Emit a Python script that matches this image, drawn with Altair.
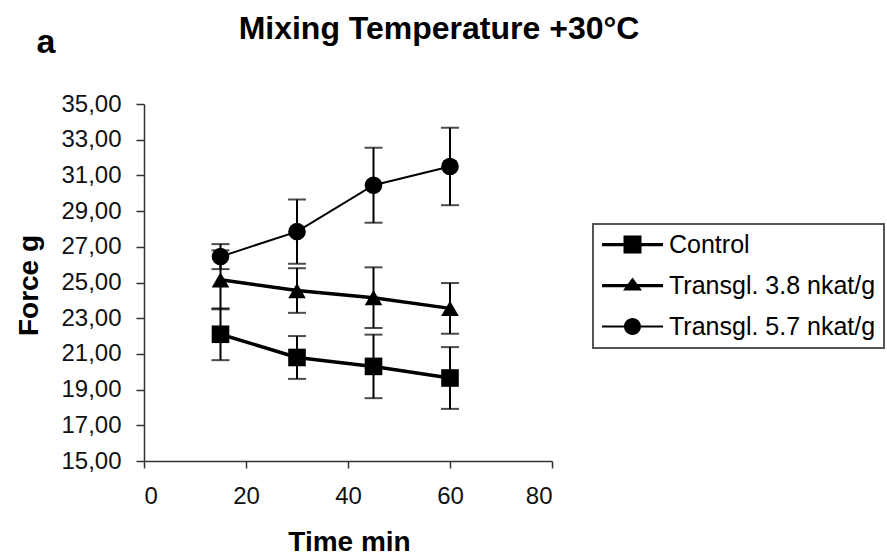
import altair as alt
import pandas as pd

title_text = "Mixing Temperature +30°C"
panel_label = "a"
x_title = "Time min"
y_title = "Force g"

series = ["Control", "Transgl. 3.8 nkat/g", "Transgl. 5.7 nkat/g"]
times = [15, 30, 45, 60]
control_mean = [22.10, 20.80, 20.30, 19.65]
control_err = [1.45, 1.20, 1.78, 1.73]
t38_mean = [25.15, 24.55, 24.15, 23.55]
t38_err = [1.65, 1.25, 1.70, 1.42]
t57_mean = [26.45, 27.85, 30.45, 31.50]
t57_err = [0.70, 1.80, 2.10, 2.17]

x_ticks = [0, 20, 40, 60, 80]
y_ticks = [15, 17, 19, 21, 23, 25, 27, 29, 31, 33, 35]

rows = []
for name, means, errs in zip(series, [control_mean, t38_mean, t57_mean],
                             [control_err, t38_err, t57_err]):
    for t, m, e in zip(times, means, errs):
        rows.append({"series": name, "time": t, "force": m, "lo": m - e, "hi": m + e})
df = pd.DataFrame(rows)

FONT = "Liberation Sans"

plot_shapes = ["square", "triangle-up", "circle"]
legend_paths = [
    "M-2.44,-0.13H2.44V0.13H-2.44Z M-0.72,-0.72H0.72V0.72H-0.72Z",
    "M-2.44,-0.13H2.44V0.13H-2.44Z M0,-0.64L0.76,0.4H-0.76Z",
    "M-2.44,-0.08H2.44V0.08H-2.44Z M0.68,0A0.68,0.68 0 1,1 -0.68,0A0.68,0.68 0 1,1 0.68,0Z",
]

x_axis = alt.Axis(values=x_ticks, title=x_title, grid=False, tickSize=7,
                  labelPadding=16, titleY=89, titleX=205, titleBaseline="alphabetic")
y_axis = alt.Axis(values=y_ticks, title=y_title, grid=False, tickSize=8,
                  labelPadding=15,
                  labelExpr="replace(format(datum.value, '.2f'), '.', ',')",
                  titleX=-107, titleY=181, titleAngle=270, titleAlign="center",
                  titleBaseline="alphabetic")

x_enc = alt.X("time:Q", scale=alt.Scale(domain=[0, 80]), axis=x_axis)


def y_enc(field):
    return alt.Y(f"{field}:Q", scale=alt.Scale(domain=[15, 35]), axis=y_axis)


base = alt.Chart(df)

err_rule = base.mark_rule(color="black", strokeWidth=2).encode(
    x=x_enc, y=y_enc("lo"), y2="hi:Q")
cap_lo = base.mark_tick(color="black", orient="horizontal", size=18, thickness=2).encode(
    x=x_enc, y=y_enc("lo"))
cap_hi = base.mark_tick(color="black", orient="horizontal", size=18, thickness=2).encode(
    x=x_enc, y=y_enc("hi"))

lines_thick = base.transform_filter(
    alt.FieldOneOfPredicate(field="series", oneOf=series[:2])
).mark_line(color="black", strokeWidth=3.5).encode(
    x=x_enc, y=y_enc("force"), detail="series:N")

lines_thin = base.transform_filter(
    alt.FieldOneOfPredicate(field="series", oneOf=series[2:])
).mark_line(color="black", strokeWidth=2).encode(
    x=x_enc, y=y_enc("force"), detail="series:N")

points = base.mark_point(filled=True, opacity=1, size=310, color="black").encode(
    x=x_enc, y=y_enc("force"),
    shape=alt.Shape("series:N", scale=alt.Scale(domain=series, range=plot_shapes), legend=None),
)

legend_layer = base.transform_filter("false").mark_point(
    filled=True, opacity=1, size=625, color="black").encode(
    shape=alt.Shape("series:N", title=None,
                    scale=alt.Scale(domain=series, range=legend_paths),
                    legend=alt.Legend(orient="none", legendX=449, legendY=120,
                                      strokeColor="#555555", padding=8,
                                      labelFontSize=25, labelFont=FONT, labelColor="black",
                                      labelLimit=400, labelOffset=24, symbolOffset=19,
                                      symbolSize=625, symbolStrokeWidth=0,
                                      symbolFillColor="black", rowPadding=15)),
)

label_a = alt.Chart(pd.DataFrame({"label": [panel_label]})).mark_text(
    font=FONT, fontSize=34, fontWeight="bold", color="black", align="center",
    baseline="alphabetic").encode(text="label:N", x=alt.value(-98), y=alt.value(-51))

chart = alt.layer(err_rule, cap_lo, cap_hi, lines_thick, lines_thin, points, legend_layer,
                  label_a).resolve_scale(
    shape="independent"
).properties(
    width=408, height=357,
    autosize=alt.AutoSizeParams(type="none"),
    padding={"left": 144, "top": 104, "right": 335, "bottom": 96},
    background="white",
    title=alt.Title(title_text, font=FONT, fontSize=32, fontWeight="bold", color="black",
                    anchor="middle", dx=91, baseline="alphabetic", offset=-45),
).configure_axis(
    labelFont=FONT, labelFontSize=24, labelColor="#111111",
    titleFont=FONT, titleFontSize=28, titleFontWeight="bold", titleColor="black",
    domainColor="#333333", domainWidth=1.5, tickColor="#333333", tickWidth=1.5,
).configure_legend(
    strokeWidth=2,
).configure_view(
    strokeWidth=0,
)

chart.save("out.html", embed_options={"renderer": "svg", "actions": False})
